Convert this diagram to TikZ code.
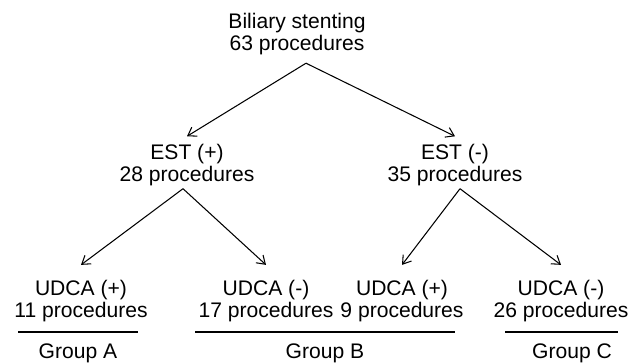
\documentclass[tikz,border=0pt]{standalone}
\usepackage{fontspec}
\setmainfont{Liberation Sans}
\usetikzlibrary{arrows.meta, calc}

\begin{document}
\begin{tikzpicture}[
    x=0.02cm, y=-0.02cm,
    >={Straight Barb[length=4.5pt, width=6pt]},
    font=\fontsize{12}{12.5}\selectfont,
    stage/.style={align=center, inner sep=0pt, outer ysep=4.5pt},
    leaf/.style={align=center, inner sep=0pt, outer ysep=9pt},
    grp/.style={anchor=base, inner sep=0pt},
    arr/.style={->, line width=0.6pt},
    bar/.style={line width=0.6pt},
]
\useasboundingbox (0,0) rectangle (635,364);

% root and first split (EST)
\node[stage] (stent) at (297,34.5) {Biliary stenting\\63 procedures};
\node[stage] (estp) at (187,165) {EST (+)\\28 procedures};
\node[stage] (estm) at (455,165) {EST (-)\\35 procedures};

\coordinate (fork0) at ($(stent.south)+(9,0)$);
\coordinate (fork1) at ($(estp.south)+(-4,-5)$);
\coordinate (fork2) at ($(estm.south)+(5,-5)$);

\draw[arr] (fork0) -- (estp.north);
\draw[arr] (fork0) -- (estm.north);

% second split (UDCA)
\node[leaf] (ud1) at (81,301.5) {UDCA (+)\\11 procedures};
\node[leaf] (ud2) at (266,301.5) {UDCA (-)\\17 procedures};
\node[leaf] (ud3) at (402,301.5) {UDCA (+)\\9 procedures};
\node[leaf] (ud4) at (561,301.5) {UDCA (-)\\26 procedures};

\draw[arr] (fork1) -- (ud1.north);
\draw[arr] (fork1) -- (ud2.north);
\draw[arr] (fork2) -- (ud3.north);
\draw[arr] (fork2) -- (ud4.north);

% groups
\draw[bar] (18,332) -- (138,332);
\draw[bar] (195,332) -- (455,332);
\draw[bar] (505,332) -- (618,332);

\node[grp] (grpA) at (78,358) {Group A};
\node[grp] (grpB) at (325,358) {Group B};
\node[grp] (grpC) at (572,358) {Group C};

\end{tikzpicture}
\end{document}
